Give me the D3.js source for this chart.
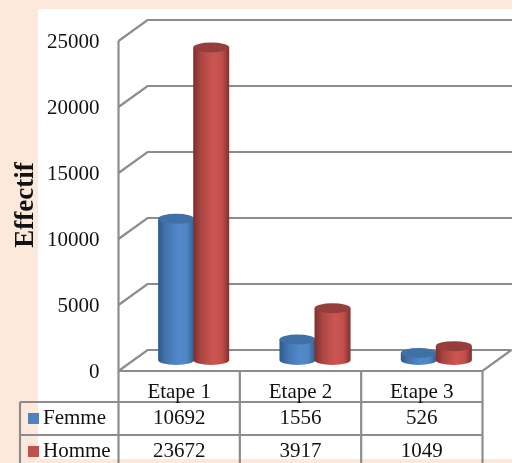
<!DOCTYPE html>
<html>
<head>
<meta charset="utf-8">
<script src="https://cdn.jsdelivr.net/npm/d3@7"></script>
<style>
	html, body { margin: 0; padding: 0; background: #fde9db; overflow: hidden; }
	text { font-family: "Liberation Serif", serif; fill: #111; }
	svg { filter: blur(0.45px); }
</style>
</head>
<body>
<div id="chart"></div>
<script>
const categories = ["Etape 1", "Etape 2", "Etape 3"];
const seriesNames = ["Femme", "Homme"];
const femme = [10692, 1556, 526];
const homme = [23672, 3917, 1049];
const yTicks = [0, 5000, 10000, 15000, 20000, 25000];

const width = 512;
const height = 463;
const gridColor = "#8c8c8c";
const fontSize = 21;

// front plane of the 3d box, the back wall is shifted by depth
const front = { left: 118.5, right: 482.5, bottom: 371, top: 41 };
const depth = { x: 29, y: -21 };
const cylinder = { rx: 18, ry: 5, lift: 11 };

const svg = d3
	.select("#chart")
	.append("svg")
	.attr("width", width)
	.attr("height", height)
	.style("display", "block");

const defs = svg.append("defs");

const colors = [
	{ id: "femme", legend: "#4f81bd", top: "#3f70a6", stops: ["#2d5a8c", "#4375ad", "#5289cb", "#4f85c4", "#2f5d90"] },
	{ id: "homme", legend: "#c0504d", top: "#953e3c", stops: ["#7d2f2d", "#ab4643", "#cb5552", "#c34f4c", "#7f302e"] }
];

colors.forEach(c => {
	const grad = defs
		.append("linearGradient")
		.attr("id", `grad-${c.id}`)
		.attr("x1", 0)
		.attr("x2", 1)
		.attr("y1", 0)
		.attr("y2", 0);
	[0, 0.22, 0.55, 0.8, 1].forEach((o, i) => {
		grad.append("stop").attr("offset", o).attr("stop-color", c.stops[i]);
	});
});

// page background and white chart area
svg.append("rect").attr("x", -5).attr("y", -5).attr("width", width + 10).attr("height", height + 10).attr("fill", "#fde9db");
svg.append("rect").attr("x", 38).attr("y", 9).attr("width", width - 30).attr("height", 450).attr("fill", "#fff");

const y = d3.scaleLinear().domain([0, 25000]).range([front.bottom, front.top]);

const x = d3
	.scaleBand()
	.domain(categories)
	.range([front.left, front.right]);

// cylinders sit mid depth, so half the box depth further right
const xSeries = d3
	.scaleBand()
	.domain(seriesNames)
	.range([depth.x / 2, x.bandwidth() + depth.x / 2])
	.paddingInner(0)
	.paddingOuter(0.73);

// grid on the side and back walls
const grid = svg.append("g").attr("fill", "none").attr("stroke", gridColor).attr("stroke-width", 2.2);

yTicks.forEach(t => {
	grid
		.append("polyline")
		.attr(
			"points",
			[
				[front.left, y(t)],
				[front.left + depth.x, y(t) + depth.y],
				[t === 0 ? front.right + depth.x : width + 5, y(t) + depth.y]
			].join(" ")
		);
});

grid
	.append("line")
	.attr("x1", front.left)
	.attr("x2", front.left)
	.attr("y1", y(25000))
	.attr("y2", y(0));

// floor front edge and right side
grid
	.append("polyline")
	.attr(
		"points",
		[
			[front.left, y(0)],
			[front.right, y(0)],
			[front.right + depth.x, y(0) + depth.y]
		].join(" ")
	);

// y axis labels
const yAxis = svg
	.append("g")
	.attr("transform", `translate(${front.left - 19},0)`)
	.call(d3.axisLeft(y).tickValues(yTicks).tickSize(0).tickPadding(0).tickFormat(d3.format("d")));

yAxis.select(".domain").remove();
yAxis.selectAll("text").attr("font-size", fontSize).style("font-family", '"Liberation Serif", serif');

svg
	.append("text")
	.attr("transform", "translate(33,205) rotate(-90)")
	.attr("text-anchor", "middle")
	.attr("font-size", 27)
	.attr("font-weight", "bold")
	.text("Effectif");

// cylinders
const series = [femme, homme];

seriesNames.forEach((name, s) => {
	const c = colors[s];
	const g = svg.append("g").attr("class", `series-${c.id}`);

	categories.forEach((cat, i) => {
		const cx = x(cat) + xSeries(name) + xSeries.bandwidth() / 2;
		const yBase = y(0) - cylinder.lift;
		const yTop = y(series[s][i]) - cylinder.lift;
		const { rx, ry } = cylinder;

		g.append("path")
			.attr(
				"d",
				`M${cx - rx},${yTop}L${cx - rx},${yBase}A${rx},${ry} 0 0 0 ${cx + rx},${yBase}L${cx + rx},${yTop}Z`
			)
			.attr("fill", `url(#grad-${c.id})`);

		g.append("ellipse")
			.attr("cx", cx)
			.attr("cy", yTop)
			.attr("rx", rx)
			.attr("ry", ry)
			.attr("fill", c.top);
	});
});

// data table below the chart
const rowLines = [402, 435];
const rowLabelLeft = 20;
const tableBottom = height + 5;

const table = svg.append("g").attr("stroke", gridColor).attr("stroke-width", 2.2).attr("fill", "none");

rowLines.forEach(ry => {
	table
		.append("line")
		.attr("x1", rowLabelLeft)
		.attr("x2", front.right)
		.attr("y1", ry)
		.attr("y2", ry);
});

table
	.append("line")
	.attr("x1", rowLabelLeft)
	.attr("x2", rowLabelLeft)
	.attr("y1", rowLines[0])
	.attr("y2", tableBottom);

categories.concat("end").forEach(cat => {
	const lx = cat === "end" ? front.right : x(cat);
	table
		.append("line")
		.attr("x1", lx)
		.attr("x2", lx)
		.attr("y1", y(0))
		.attr("y2", tableBottom);
});

svg
	.append("g")
	.selectAll("text")
	.data(categories)
	.join("text")
	.attr("x", d => x(d) + x.bandwidth() / 2)
	.attr("y", 398)
	.attr("text-anchor", "middle")
	.attr("font-size", fontSize)
	.text(d => d);

seriesNames.forEach((name, s) => {
	const baseline = s === 0 ? 424 : 457;

	svg
		.append("rect")
		.attr("x", 28)
		.attr("y", baseline - 11)
		.attr("width", 11)
		.attr("height", 11)
		.attr("fill", colors[s].legend);

	svg
		.append("text")
		.attr("x", 43)
		.attr("y", baseline)
		.attr("font-size", fontSize)
		.text(name);

	svg
		.append("g")
		.selectAll("text")
		.data(series[s])
		.join("text")
		.attr("x", (d, i) => x(categories[i]) + x.bandwidth() / 2)
		.attr("y", baseline)
		.attr("text-anchor", "middle")
		.attr("font-size", fontSize)
		.text(d => d);
});
</script>
</body>
</html>
